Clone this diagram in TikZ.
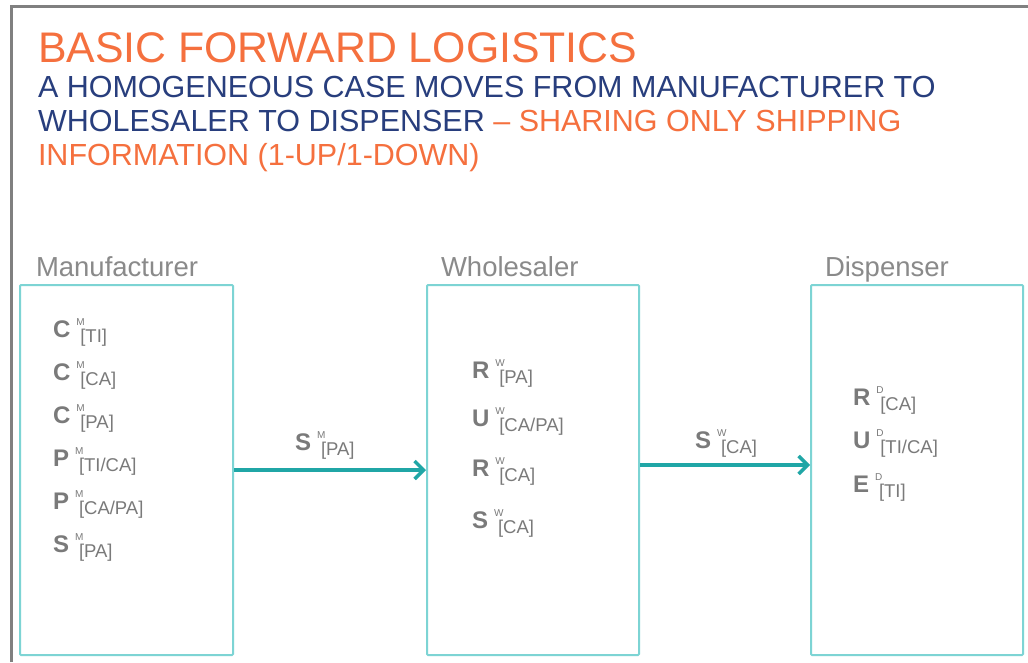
\documentclass[tikz,border=0pt]{standalone}
\usepackage{fontspec}
\setmainfont{Liberation Sans}
\usetikzlibrary{arrows.meta}
\definecolor{ttlorange}{RGB}{245,112,62}
\definecolor{navy}{RGB}{40,62,125}
\definecolor{symgray}{RGB}{122,122,122}
\definecolor{lblgray}{RGB}{138,138,138}
\definecolor{boxteal}{RGB}{125,212,212}
\definecolor{arrteal}{RGB}{32,166,166}
\definecolor{framegray}{RGB}{128,128,128}
\newcommand\mysym[3]{{\fontsize{24}{24}\selectfont\bfseries #1}\hspace{6pt}\rlap{\raisebox{12pt}{\fontsize{10}{10}\selectfont #2}}\hspace{4pt}\raisebox{-5pt}{\fontsize{18.5}{18.5}\selectfont[#3]}}
\tikzset{
  txt/.style={anchor=base west, inner sep=0pt, outer sep=0pt},
  ttl/.style={txt, text=ttlorange, font=\fontsize{42.8}{42.8}\selectfont},
  sub/.style={txt, font=\fontsize{30.5}{30.5}\selectfont},
  lbl/.style={txt, text=lblgray, font=\fontsize{27.5}{27.5}\selectfont},
  symb/.style={txt, text=symgray},
  box/.style={draw=boxteal, line width=2pt, rounded corners=1pt, rectangle, minimum width=212pt, minimum height=370pt, inner sep=0pt, fill=white},
  arr/.style={draw=arrteal, line width=3.5pt, -{Straight Barb[length=9pt,width=18pt,line width=3.5pt]}},
  frame/.style={draw=framegray, line width=3pt}
}
\begin{document}
\begin{tikzpicture}[x=1pt,y=-1pt]
\useasboundingbox (0,0) rectangle (1028,662);
\fill[white] (0,0) rectangle (1028,662);
\coordinate (fbl) at (11,662);
\coordinate (ftl) at (11,6);
\coordinate (ftr) at (1028,6);
\draw[frame] (fbl) -- (ftl) -- (ftr);
% titles
\node[ttl] (title) at (38,62) {BASIC FORWARD LOGISTICS};
\node[sub, text=navy] (sub1) at (38,97) {A HOMOGENEOUS CASE MOVES FROM MANUFACTURER TO};
\node[sub, text=navy] (sub2) at (38,131) {WHOLESALER TO DISPENSER \textcolor{ttlorange}{– SHARING ONLY SHIPPING}};
\node[sub, text=ttlorange] (sub3) at (38,165) {INFORMATION (1-UP/1-DOWN)};
% section labels
\node[lbl] (lman) at (36,276) {Manufacturer};
\node[lbl] (lwho) at (441,276) {Wholesaler};
\node[lbl] (ldis) at (825,276) {Dispenser};
% boxes
\node[box, minimum width=213pt] (man) at (126.5,470) {};
\node[box] (who) at (533,470) {};
\node[box] (dis) at (917,470) {};
% manufacturer items
\node[symb] (m1) at (53,337) {\mysym{C}{M}{TI}};
\node[symb] (m2) at (53,380) {\mysym{C}{M}{CA}};
\node[symb] (m3) at (53,423) {\mysym{C}{M}{PA}};
\node[symb] (m4) at (53,466) {\mysym{P}{M}{TI/CA}};
\node[symb] (m5) at (53,509) {\mysym{P}{M}{CA/PA}};
\node[symb] (m6) at (53,552) {\mysym{S}{M}{PA}};
% wholesaler items
\node[symb] (w1) at (472,378) {\mysym{R}{W}{PA}};
\node[symb] (w2) at (472,426) {\mysym{U}{W}{CA/PA}};
\node[symb] (w3) at (472,476) {\mysym{R}{W}{CA}};
\node[symb] (w4) at (472,528) {\mysym{S}{W}{CA}};
% dispenser items
\node[symb] (d1) at (853,405) {\mysym{R}{D}{CA}};
\node[symb] (d2) at (853,448) {\mysym{U}{D}{TI/CA}};
\node[symb] (d3) at (853,492) {\mysym{E}{D}{TI}};
% arrows
\draw[arr] (man.east) -- (who.west);
\draw[arr] ([yshift=5pt]who.east) -- ([yshift=5pt]dis.west);
\node[symb] (a1) at (295,450) {\mysym{S}{M}{PA}};
\node[symb] (a2) at (695,448) {\mysym{S}{W}{CA}};
\end{tikzpicture}
\end{document}
